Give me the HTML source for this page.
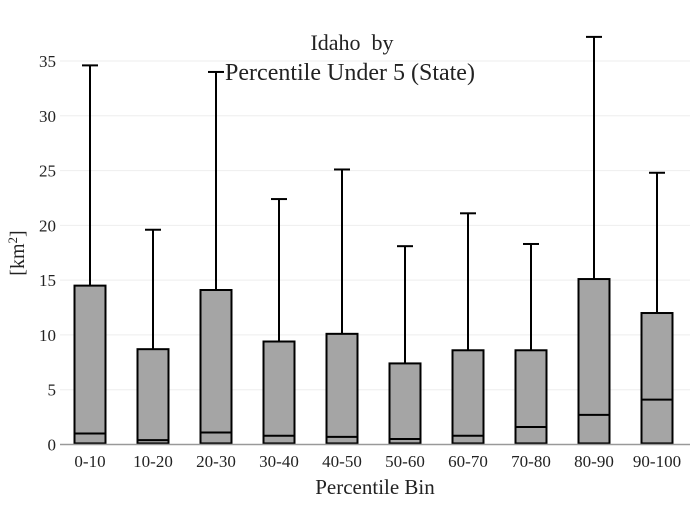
<!DOCTYPE html>
<html><head><meta charset="utf-8"><style>
body{margin:0;background:#fff;}
svg text{font-family:"Liberation Serif",serif;fill:#222;}
</style></head><body>
<svg id="chart" width="700" height="500">
<g id="grid"></g><g id="boxes"></g><g id="axes"></g>
<text x="352" y="50" text-anchor="middle" font-size="22" xml:space="preserve">Idaho  by</text>
<text x="350" y="80" text-anchor="middle" font-size="24">Percentile Under 5 (State)</text>
<text x="375" y="494" text-anchor="middle" font-size="21">Percentile Bin</text>
<text transform="translate(24,253) rotate(-90)" text-anchor="middle" font-size="20">[km<tspan dy="-7" font-size="13">2</tspan><tspan dy="7">]</tspan></text>
</svg>
<script>
const categories=["0-10","10-20","20-30","30-40","40-50","50-60","60-70","70-80","80-90","90-100"];
const upper=[34.6,19.6,34.0,22.4,25.1,18.1,21.1,18.3,37.2,24.8];
const q3=[14.5,8.7,14.1,9.4,10.1,7.4,8.6,8.6,15.1,12.0];
const median=[1.0,0.4,1.1,0.8,0.7,0.5,0.8,1.6,2.7,4.1];
const q1=[0.1,0.1,0.1,0.1,0.1,0.1,0.1,0.1,0.1,0.1];
const lower=[0,0,0,0,0,0,0,0,0,0];
const yTicks=[0,5,10,15,20,25,30,35];
const NS="http://www.w3.org/2000/svg";
const x0=60,x1=690,y0=444.5,yTop=61;
const y=v=>y0-(y0-yTop)*v/35;
const step=(x1-x0)/categories.length;
const xc=i=>x0+step*(i+0.5)-1.5;
function mk(p,tag,attrs){const e=document.createElementNS(NS,tag);for(const k in attrs)e.setAttribute(k,attrs[k]);p.appendChild(e);return e;}
const grid=document.getElementById('grid'),boxes=document.getElementById('boxes'),axes=document.getElementById('axes');
yTicks.forEach(t=>{
  if(t>0){const g=mk(grid,'line',{x1:x0,x2:x1,y1:y(t),y2:y(t),stroke:'#eee','stroke-width':1});
  
  }
  const tx=mk(axes,'text',{x:x0-4,y:y(t)+6,'text-anchor':'end','font-size':17});
  tx.textContent=t;
  
  
});
const ax=mk(axes,'line',{x1:x0,x2:x1,y1:y0,y2:y0,stroke:'#999','stroke-width':1.5});


categories.forEach((c,i)=>{
  const cx=xc(i),w=31;
  const g=mk(boxes,'g',{});
  
  
  mk(g,'line',{x1:cx,x2:cx,y1:y(upper[i]),y2:y(q3[i]),stroke:'#000','stroke-width':2});
  mk(g,'line',{x1:cx-8,x2:cx+8,y1:y(upper[i]),y2:y(upper[i]),stroke:'#000','stroke-width':2});
  mk(g,'line',{x1:cx,x2:cx,y1:y(lower[i]),y2:y(q1[i]),stroke:'#000','stroke-width':2});
  mk(g,'rect',{x:cx-w/2,y:y(q3[i]),width:w,height:y(q1[i])-y(q3[i]),fill:'#a5a5a5',stroke:'#000','stroke-width':2});
  mk(g,'line',{x1:cx-w/2,x2:cx+w/2,y1:y(median[i]),y2:y(median[i]),stroke:'#000','stroke-width':2});
  const tx=mk(axes,'text',{x:cx,y:467,'text-anchor':'middle','font-size':17});
  tx.textContent=c;
  
  
});
</script>
</body></html>
